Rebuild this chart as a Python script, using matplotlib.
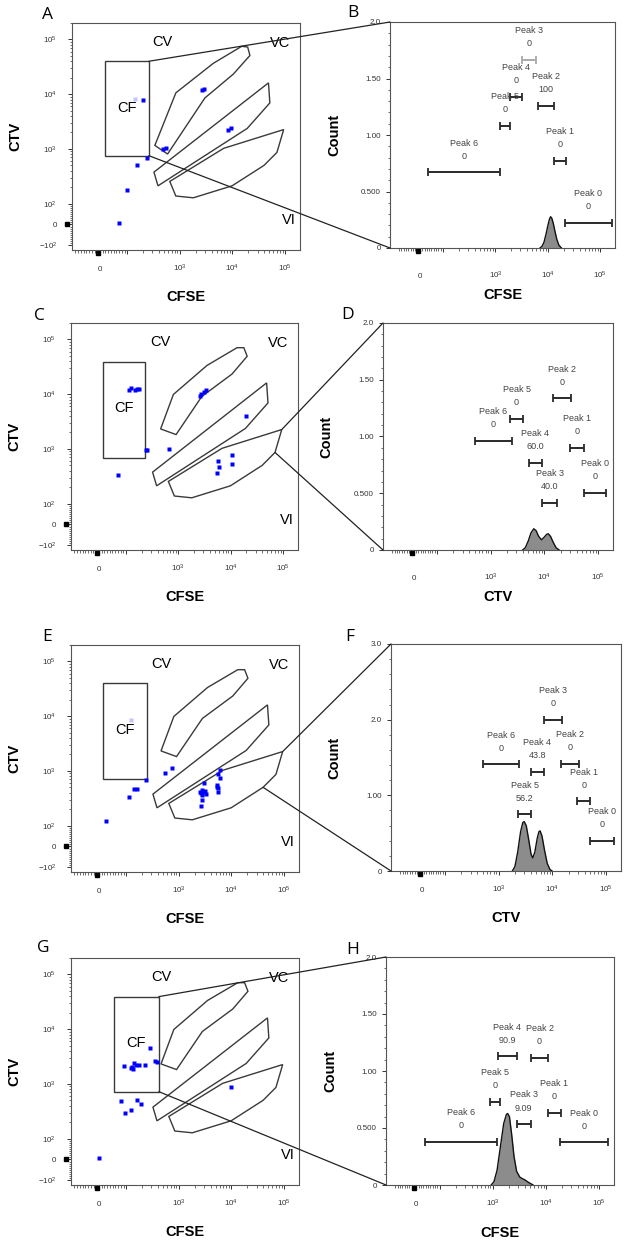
import numpy as np
import matplotlib
matplotlib.use("Agg")
import matplotlib.pyplot as plt
from matplotlib.patches import Polygon, ConnectionPatch
import matplotlib.transforms as mtransforms

# ---------------- data ----------------
# dot plots: events (CFSE, CTV)
a_cfse = [195, 2660, 2900, 8330, 9250, 481, 535, 238, 154, 99, 70]
a_ctv = [7730, 11700, 12600, 2200, 2460, 1000, 1060, 680, 518, 180, 5]
a_dim_cfse = [143]
a_dim_ctv = [8170]

c_cfse = [113, 126, 147, 165, 175, 2530, 2730, 3030, 3350, 19200, 240, 254,
          671, 72, 5620, 5880, 5460, 10600, 10600]
c_ctv = [11800, 13000, 11800, 12400, 12700, 9200, 10200, 10950, 11800, 4020,
         958, 958, 1000, 341, 597, 467, 360, 773, 538]

e_cfse = [237, 540, 745, 138, 160, 114, 24, 2520, 2920, 3240, 2720, 2790, 2670,
          3000, 2800, 2650, 3100, 5410, 5570, 5650, 6000, 6000, 5650, 5400]
e_ctv = [696, 902, 1150, 461, 461, 341, 124, 410, 410, 381, 356, 294, 231,
         604, 450, 390, 430, 547, 488, 410, 728, 1040, 863, 500]
e_dim_cfse = [121]
e_dim_ctv = [8600]

g_cfse = [282, 351, 378, 92, 122, 135, 141, 155, 175, 224, 127, 9950, 79, 162,
          188, 125, 94, 0]
g_ctv = [4620, 2640, 2570, 2130, 1980, 1900, 2430, 2200, 2250, 2250, 2040, 868,
         491, 505, 425, 334, 298, 5]

# gates (CFSE, CTV vertices)
cv_cfse = [457, 802, 3510, 13200, 17800, 20600, 10600, 2800, 902]
cv_ctv = [2320, 9900, 33500, 70800, 70800, 49300, 23400, 9100, 1830]
cv_a_cfse = [334, 839, 4310, 15000, 19500, 21500, 10400, 2990, 583]
cv_a_ctv = [1160, 10600, 36600, 75000, 72800, 51000, 23300, 8540, 807]
vc_cfse = [321, 383, 19100, 51500, 48500]
vc_ctv = [377, 212, 2370, 6930, 16100]
vi_cfse = [94400, 70200, 40000, 9860, 1800, 837, 643, 6810]
vi_ctv = [2260, 863, 502, 212, 128, 138, 255, 1026]
# CF rectangle gates: cfse low, cfse high, ctv low, ctv high
cf_a = [19, 257, 753, 40000]
cf_c = [15, 229, 687, 38800]
cf_e = [13, 248, 708, 40400]
cf_g = [54, 416, 722, 39400]

# histograms
b_cfse = [7070, 7700, 8400, 9170, 10000, 10680, 11240, 11900, 12700, 13600, 14800, 16200, 18100]
b_count = [0, 0.015, 0.05, 0.12, 0.2, 0.255, 0.277, 0.262, 0.215, 0.15, 0.075, 0.025, 0]
d_ctv = [3920, 4400, 5000, 5600, 6320, 7000, 7800, 8850, 10000, 11000, 11800, 13000, 14500, 16500, 18800]
d_count = [0, 0.02, 0.08, 0.15, 0.187, 0.17, 0.12, 0.09, 0.115, 0.138, 0.143, 0.12, 0.07, 0.02, 0]
f_ctv = [1790, 2000, 2250, 2550, 2800, 2970, 3250, 3600, 4000, 4290, 4700, 5200, 5600, 5900,
         6400, 7100, 8000, 9000, 9850]
f_count = [0, 0.06, 0.25, 0.52, 0.64, 0.653, 0.6, 0.42, 0.22, 0.173, 0.25, 0.43, 0.52, 0.53,
           0.46, 0.28, 0.1, 0.02, 0]
h_cfse = [930, 1050, 1200, 1400, 1600, 1800, 1900, 2050, 2250, 2500, 2800, 3200, 3600, 4000, 4600, 5700]
h_count = [0, 0.03, 0.13, 0.35, 0.54, 0.62, 0.627, 0.6, 0.45, 0.25, 0.12, 0.07, 0.055, 0.045, 0.025, 0]

peak_names = ["Peak 0", "Peak 1", "Peak 2", "Peak 3", "Peak 4", "Peak 5", "Peak 6"]
b_peak_lo = [20900, 13000, 6390, 3190, 1920, 1205, 35]
b_peak_hi = [166000, 21900, 13000, 5860, 3270, 1920, 1240]
b_peak_y = [0.224, 0.770, 1.257, 1.664, 1.339, 1.080, 0.670]
b_peak_val = ["0", "0", "100", "0", "0", "0", "0"]

d_peak_lo = [53600, 30400, 14500, 8850, 5090, 2290, 497]
d_peak_hi = [140000, 53600, 31300, 17500, 8850, 3980, 2470]
d_peak_y = [0.502, 0.902, 1.335, 0.417, 0.767, 1.158, 0.961]
d_peak_val = ["0", "0", "0", "40.0", "60.0", "0", "0"]

f_peak_lo = [50700, 29200, 14300, 6930, 3980, 2290, 497]
f_peak_hi = [140000, 50700, 31300, 15200, 6930, 3980, 2390]
f_peak_y = [0.40, 0.92, 1.42, 1.996, 1.31, 0.751, 1.41]
f_peak_val = ["0", "0", "0", "0", "43.8", "56.2", "0"]

h_peak_lo = [18400, 10900, 5270, 2820, 1240, 900, 37]
h_peak_hi = [145000, 19000, 10900, 5120, 2820, 1380, 1186]
h_peak_y = [0.373, 0.632, 1.114, 0.534, 1.13, 0.73, 0.38]
h_peak_val = ["0", "0", "0", "9.09", "90.9", "0", "0"]

# ---------------- figure ----------------
W, H = 625, 1246
DPI = 100
plt.rcParams['font.family'] = ['Liberation Sans', 'DejaVu Sans']
plt.rcParams['mathtext.fontset'] = 'custom'
plt.rcParams['mathtext.rm'] = 'Liberation Sans'
plt.rcParams['mathtext.it'] = 'Liberation Sans'

fig = plt.figure(figsize=(W / DPI, H / DPI), dpi=DPI)
fig.patch.set_facecolor('white')

GATE_C = '#3a3a3a'
TICK_C = '#333333'
all_axes = []


def add_ax(x0, y0, x1, y1):
    ax = fig.add_axes([x0 / W, 1 - y1 / H, (x1 - x0) / W, (y1 - y0) / H])
    all_axes.append(ax)
    return ax


def minor_list(lo, hi):
    out = [v for v in range(-100, 101, 10) if lo <= v <= hi and v not in (-100, 0, 100)]
    out += [k * 10 ** d for d in (2, 3, 4, 5) for k in range(2, 10) if k * 10 ** d <= hi]
    out += [-k * 100 for k in range(2, 10) if -k * 100 >= lo]
    return out


def style_axes(ax, xpad, ypad):
    for s in ax.spines.values():
        s.set_color('#555555')
        s.set_linewidth(0.8)
    ax.tick_params(which='major', length=3.2, width=0.7, direction='out',
                   labelsize=5.8, labelcolor=TICK_C, color=TICK_C)
    ax.tick_params(which='minor', length=1.8, width=0.5, direction='out', color=TICK_C)
    # labels are set on their baseline, so add the text height to the pad
    ax.tick_params(axis='x', which='major', pad=xpad + 5.5)
    ax.tick_params(axis='y', which='major', pad=ypad)


def set_x_biex(ax, L, lo, hi):
    ax.set_xscale('symlog', linthresh=100, linscale=L * 0.9, base=10)
    ax.set_xlim(lo, hi)
    ax.set_xticks([0, 100, 1e3, 1e4, 1e5], ['0', '', r'$10^3$', r'$10^4$', r'$10^5$'])
    ax.set_xticks(minor_list(lo, hi), minor=True)
    ax.xaxis.set_minor_formatter(plt.NullFormatter())
    trans = mtransforms.blended_transform_factory(ax.transData, ax.transAxes)
    ax.plot([-8], [-0.012], marker='s', ms=3.2, color='k', transform=trans, clip_on=False)


def dot_panel(box, cv, cf, xs, ys, dims):
    ax = add_ax(*box)
    style_axes(ax, 6.5, 7.5)
    set_x_biex(ax, 0.52, -103, 1.93e5)
    ax.set_yscale('symlog', linthresh=100, linscale=0.38 * 0.9, base=10)
    ax.set_ylim(-122, 2.0e5)
    ax.set_yticks([-100, 0, 100, 1e3, 1e4, 1e5],
                  [r'$-10^2$', '0', r'$10^2$', r'$10^3$', r'$10^4$', r'$10^5$'])
    ax.set_yticks(minor_list(-122, 2.0e5), minor=True)
    ax.yaxis.set_minor_formatter(plt.NullFormatter())
    trans = mtransforms.blended_transform_factory(ax.transAxes, ax.transData)
    ax.plot([-0.02], [0], marker='s', ms=3.2, color='k', transform=trans, clip_on=False)

    for gx, gy in [cv, (vc_cfse, vc_ctv), (vi_cfse, vi_ctv)]:
        ax.add_patch(Polygon(list(zip(gx, gy)), closed=True, fill=False,
                             edgecolor=GATE_C, lw=1.0))
    x0, x1, y0, y1 = cf
    ax.add_patch(Polygon([(x0, y0), (x1, y0), (x1, y1), (x0, y1)], closed=True,
                         fill=False, edgecolor=GATE_C, lw=1.0))
    if dims is not None:
        ax.plot(dims[0], dims[1], 's', ms=2.5, color='#c4c4ff', mec='none')
    ax.plot(xs, ys, 's', ms=2.5, color='#0000ff', mec='none')

    ax.text(0.395, 0.915, 'CV', transform=ax.transAxes, ha='center', va='center', fontsize=10.5)
    ax.text(0.913, 0.913, 'VC', transform=ax.transAxes, ha='center', va='center', fontsize=10.5)
    ax.text(0.950, 0.134, 'VI', transform=ax.transAxes, ha='center', va='center', fontsize=10.5)
    # CF label centred on gate
    dx0 = ax.transData.transform((x0, 1000))[0]
    dx1 = ax.transData.transform((x1, 1000))[0]
    fx = ax.transAxes.inverted().transform(((dx0 + dx1) / 2, 0))[0]
    ax.text(fx, 0.626, 'CF', transform=ax.transAxes, ha='center', va='center', fontsize=10.5)

    ax.set_ylabel('CTV', fontsize=10.5, fontweight='bold')
    ax.yaxis.set_label_coords(-50 / 228, 0.5)
    ax.set_xlabel('CFSE', fontsize=10.5, fontweight='bold')
    ax.xaxis.set_label_coords(0.5, -40 / 227)
    return ax


def hist_panel(box, xs, cs, lo, hi, yv, vals, ymax, yticks, ylabels, yminor, xlabel,
               xpad, light_peak=None):
    ax = add_ax(*box)
    style_axes(ax, xpad, 3.5)
    set_x_biex(ax, 0.44, -135, 1.9e5)
    ax.set_ylim(0, ymax)
    ax.set_yticks(yticks, ylabels)
    ax.set_yticks(yminor, minor=True)
    ax.yaxis.set_minor_formatter(plt.NullFormatter())
    ax.fill_between(xs, cs, 0, color='#8c8c8c', lw=0)
    ax.plot(xs, cs, color='#111111', lw=1.0)
    inv = ax.transData.inverted()
    for i, name in enumerate(peak_names):
        col = '#aaaaaa' if light_peak == i else '#2a2a2a'
        ax.plot([lo[i], hi[i]], [yv[i], yv[i]], color=col, lw=1.4,
                marker='|', ms=5.5, mew=1.3, solid_capstyle='butt')
        d0 = ax.transData.transform((lo[i], yv[i]))
        d1 = ax.transData.transform((hi[i], yv[i]))
        mx = inv.transform(((d0[0] + d1[0]) / 2, d0[1]))[0]
        ax.annotate(name, (mx, yv[i]), xytext=(0, 21), textcoords='offset points',
                    ha='center', va='center', fontsize=6.5, color='#444444')
        ax.annotate(vals[i], (mx, yv[i]), xytext=(0, 11.6), textcoords='offset points',
                    ha='center', va='center', fontsize=6.5, color='#444444')
    ax.set_ylabel('Count', fontsize=10.5, fontweight='bold')
    ax.yaxis.set_label_coords(-49 / 228, 0.5)
    ax.set_xlabel(xlabel, fontsize=10.5, fontweight='bold')
    ax.xaxis.set_label_coords(0.5, -40.5 / 227)
    return ax


y2_ticks = [0, 0.5, 1.0, 1.5, 2.0]
y2_labels = ['0', '0.500', '1.00', '1.50', '2.0']
y2_minor = [i / 10 for i in range(1, 20) if i % 5]
y3_ticks = [0, 1.0, 2.0, 3.0]
y3_labels = ['0', '1.00', '2.0', '3.0']
y3_minor = [i / 5 for i in range(1, 15) if i % 5]

axA = dot_panel((72, 23, 300, 250), (cv_a_cfse, cv_a_ctv), cf_a, a_cfse, a_ctv, (a_dim_cfse, a_dim_ctv))
axB = hist_panel((390, 22, 615, 248), b_cfse, b_count, b_peak_lo, b_peak_hi, b_peak_y, b_peak_val,
                 2.0, y2_ticks, y2_labels, y2_minor, 'CFSE', 13, light_peak=3)
axC = dot_panel((71, 323, 298, 550), (cv_cfse, cv_ctv), cf_c, c_cfse, c_ctv, None)
axD = hist_panel((383, 323, 613, 550), d_ctv, d_count, d_peak_lo, d_peak_hi, d_peak_y, d_peak_val,
                 2.0, y2_ticks, y2_labels, y2_minor, 'CTV', 13)
axE = dot_panel((71, 645, 299, 872), (cv_cfse, cv_ctv), cf_e, e_cfse, e_ctv, (e_dim_cfse, e_dim_ctv))
axF = hist_panel((391, 644, 621, 871), f_ctv, f_count, f_peak_lo, f_peak_hi, f_peak_y, f_peak_val,
                 3.0, y3_ticks, y3_labels, y3_minor, 'CTV', 6.5)
axG = dot_panel((71, 958, 299, 1185), (cv_cfse, cv_ctv), cf_g, g_cfse, g_ctv, None)
axH = hist_panel((386, 957, 614, 1185), h_cfse, h_count, h_peak_lo, h_peak_hi, h_peak_y, h_peak_val,
                 2.0, y2_ticks, y2_labels, y2_minor, 'CFSE', 6.5)


def connect(ax1, p_top, p_bot, ax2):
    for p, corner in [(p_top, (0, 1)), (p_bot, (0, 0))]:
        con = ConnectionPatch(xyA=p, coordsA='data', axesA=ax1,
                              xyB=corner, coordsB='axes fraction', axesB=ax2,
                              color='#222222', lw=0.9)
        fig.add_artist(con)


connect(axA, (cf_a[1], cf_a[3]), (cf_a[1], cf_a[2]), axB)
connect(axC, (vi_cfse[0], vi_ctv[0]), (vi_cfse[1], vi_ctv[1]), axD)
connect(axE, (vi_cfse[0], vi_ctv[0]), (vi_cfse[2], vi_ctv[2]), axF)
connect(axG, (cf_g[1], cf_g[3]), (cf_g[1], cf_g[2]), axH)

for letter, (px, py) in {'A': (48, 15), 'B': (353, 13), 'C': (39, 316), 'D': (348, 315),
                         'E': (47, 637), 'F': (350, 637), 'G': (43, 948), 'H': (353, 950)}.items():
    fig.text(px / W, 1 - py / H, letter, ha='center', va='center', fontsize=12.5,
             family=['Open Sans', 'DejaVu Sans'])

# align x tick labels on a common baseline
for ax in all_axes:
    for t in ax.xaxis.get_major_ticks():
        t.label1.set_verticalalignment('baseline')

fig.savefig('out.png', dpi=DPI)
